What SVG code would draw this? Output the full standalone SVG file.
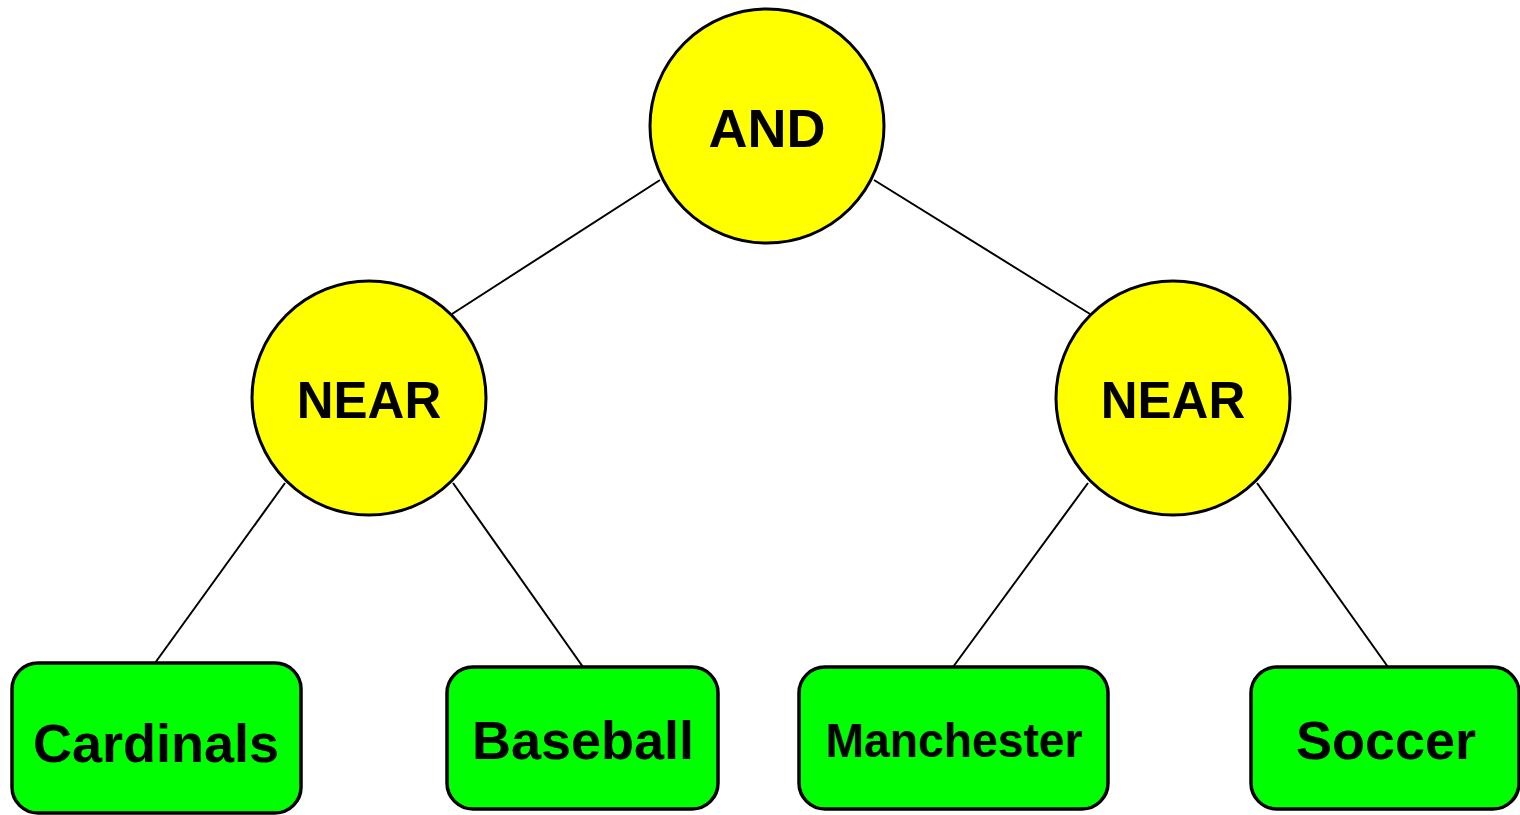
<svg xmlns="http://www.w3.org/2000/svg" width="1520" height="815" viewBox="0 0 1520 815">
<style>
.op{fill:#ffff00;stroke:#000;stroke-width:3}
.leaf{fill:#00ff00;stroke:#000;stroke-width:3.5}
.edge{stroke:#000;stroke-width:2;fill:none}
text{font-family:"Liberation Sans",Arial,sans-serif;font-weight:bold;fill:#000;text-anchor:middle}
</style>
<rect width="1520" height="815" fill="#fff"/>
<g id="connectors">
<line class="edge" x1="660" y1="180" x2="452" y2="314"/>
<line class="edge" x1="874" y1="180" x2="1090" y2="314"/>
<line class="edge" x1="285" y1="483" x2="155" y2="663"/>
<line class="edge" x1="453" y1="483" x2="583" y2="667"/>
<line class="edge" x1="1088" y1="483" x2="953" y2="667"/>
<line class="edge" x1="1257" y1="483" x2="1388" y2="667"/>
</g>
<g id="and">
<circle class="op" cx="767" cy="126" r="117"/>
<text x="767" y="147" font-size="54">AND</text>
</g>
<g id="near-left">
<circle class="op" cx="369" cy="398" r="117"/>
<text x="369" y="418" font-size="51">NEAR</text>
</g>
<g id="near-right">
<circle class="op" cx="1173" cy="398" r="117"/>
<text x="1173" y="418" font-size="51">NEAR</text>
</g>
<g id="cardinals">
<rect class="leaf" x="12" y="663" width="289" height="150" rx="26"/>
<text x="156" y="762" font-size="54">Cardinals</text>
</g>
<g id="baseball">
<rect class="leaf" x="447" y="667" width="271" height="142" rx="26"/>
<text x="583" y="759" font-size="54">Baseball</text>
</g>
<g id="manchester">
<rect class="leaf" x="799" y="667" width="309" height="142" rx="26"/>
<text x="954" y="757" font-size="48" textLength="257" lengthAdjust="spacingAndGlyphs">Manchester</text>
</g>
<g id="soccer">
<rect class="leaf" x="1251" y="667" width="268" height="142" rx="26"/>
<text x="1386" y="759" font-size="54">Soccer</text>
</g>
</svg>
